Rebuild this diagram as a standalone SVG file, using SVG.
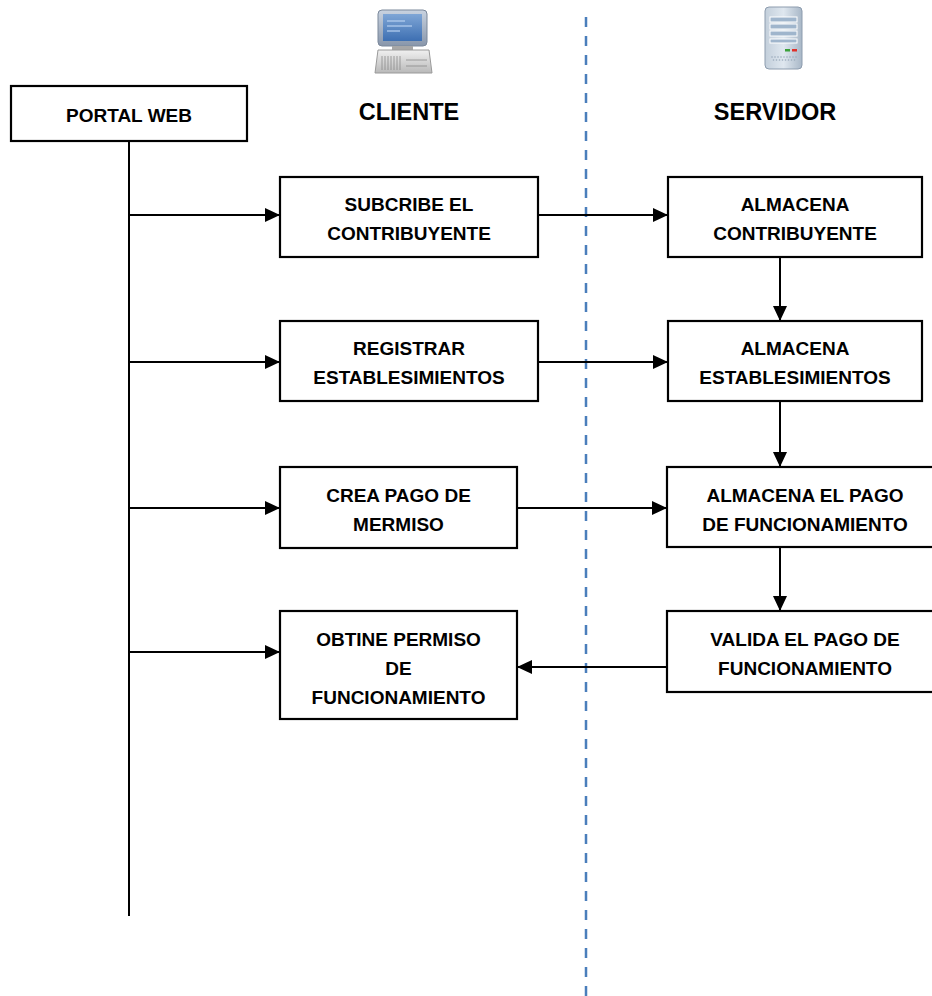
<svg xmlns="http://www.w3.org/2000/svg" width="932" height="996" viewBox="0 0 932 996">
<style>
.box{fill:#fff;stroke:#000;stroke-width:2.2}
.t{font-family:"Liberation Sans",Arial,sans-serif;font-weight:bold;font-size:19px;fill:#000;text-anchor:middle}
.h{font-family:"Liberation Sans",Arial,sans-serif;font-weight:bold;font-size:23.5px;fill:#000;text-anchor:middle}
.c{stroke:#000;stroke-width:2;fill:none}
.c.a{marker-end:url(#arr)}
</style>
<defs>
<marker id="arr" markerWidth="16" markerHeight="14" refX="15" refY="7" orient="auto" markerUnits="userSpaceOnUse">
<path d="M0,0 L15,7 L0,14 Z" fill="#000"/>
</marker>
<linearGradient id="srv" x1="0" y1="0" x2="1" y2="0">
<stop offset="0" stop-color="#c3cfdb"/><stop offset="0.5" stop-color="#dfe7ef"/><stop offset="1" stop-color="#a8b7c7"/>
</linearGradient>
<linearGradient id="scr" x1="0" y1="0" x2="0" y2="1">
<stop offset="0" stop-color="#7fa6d6"/><stop offset="1" stop-color="#3d6fb2"/>
</linearGradient>
<linearGradient id="bez" x1="0" y1="0" x2="0" y2="1">
<stop offset="0" stop-color="#c9d3e0"/><stop offset="1" stop-color="#8896aa"/>
</linearGradient>
<linearGradient id="base" x1="0" y1="0" x2="0" y2="1">
<stop offset="0" stop-color="#f0f0f0"/><stop offset="1" stop-color="#b9b9b9"/>
</linearGradient>
</defs>

<!-- divider -->
<line x1="586" y1="17" x2="586" y2="996" stroke="#4a7ebb" stroke-width="2.5" stroke-dasharray="10 9"/>

<!-- icons -->
<g id="icon-cliente">
<rect x="378" y="10" width="49" height="36" rx="4" fill="url(#bez)" stroke="#7b889b" stroke-width="1"/>
<rect x="383" y="14" width="39" height="27" fill="url(#scr)"/>
<line x1="387" y1="21" x2="405" y2="21" stroke="#b8d0f0" stroke-width="1.2"/>
<line x1="387" y1="26" x2="412" y2="26" stroke="#b8d0f0" stroke-width="1.2"/>
<line x1="387" y1="31" x2="400" y2="31" stroke="#b8d0f0" stroke-width="1.2"/>
<rect x="392" y="46" width="21" height="4" fill="#a7a7a7"/>
<path d="M378,50 L429,50 L432,73 L375,73 Z" fill="url(#base)" stroke="#9a9a9a" stroke-width="1"/>
<g stroke="#8c8c8c" stroke-width="0.8">
<line x1="382" y1="56" x2="382" y2="70"/><line x1="385" y1="56" x2="385" y2="70"/><line x1="388" y1="56" x2="388" y2="70"/><line x1="391" y1="56" x2="391" y2="70"/><line x1="394" y1="56" x2="394" y2="70"/><line x1="397" y1="56" x2="397" y2="70"/><line x1="400" y1="56" x2="400" y2="70"/>
<line x1="406" y1="60" x2="427" y2="60"/><line x1="406" y1="66" x2="427" y2="66"/>
</g>
</g>

<g id="icon-servidor">
<rect x="765" y="7" width="37" height="62" rx="4" fill="url(#srv)" stroke="#8d9cae" stroke-width="1"/>
<g fill="#9fb5cc" stroke="#fff" stroke-width="1">
<rect x="770" y="17" width="27" height="5"/><rect x="770" y="24" width="27" height="5"/><rect x="770" y="31" width="27" height="5"/><rect x="770" y="39" width="27" height="4"/>
</g>
<rect x="785" y="49" width="5" height="2.5" fill="#3aa13a"/>
<rect x="792" y="49" width="5" height="2.5" fill="#e0302a"/>
<g fill="#9aa9ba">
<circle cx="772" cy="57" r="0.8"/><circle cx="775" cy="57" r="0.8"/><circle cx="778" cy="57" r="0.8"/><circle cx="781" cy="57" r="0.8"/><circle cx="784" cy="57" r="0.8"/><circle cx="787" cy="57" r="0.8"/><circle cx="790" cy="57" r="0.8"/><circle cx="793" cy="57" r="0.8"/><circle cx="796" cy="57" r="0.8"/>
<circle cx="773.5" cy="60" r="0.8"/><circle cx="776.5" cy="60" r="0.8"/><circle cx="779.5" cy="60" r="0.8"/><circle cx="782.5" cy="60" r="0.8"/><circle cx="785.5" cy="60" r="0.8"/><circle cx="788.5" cy="60" r="0.8"/><circle cx="791.5" cy="60" r="0.8"/><circle cx="794.5" cy="60" r="0.8"/>
</g>
</g>

<text class="h" x="409" y="120">CLIENTE</text>
<text class="h" x="775" y="120">SERVIDOR</text>

<!-- connectors -->
<g id="connectors">
<line class="c" x1="129" y1="141" x2="129" y2="916"/>
<line class="c a" x1="129" y1="215" x2="280" y2="215"/>
<line class="c a" x1="129" y1="362" x2="280" y2="362"/>
<line class="c a" x1="129" y1="508" x2="280" y2="508"/>
<line class="c a" x1="129" y1="652" x2="280" y2="652"/>
<line class="c a" x1="538" y1="215" x2="668" y2="215"/>
<line class="c a" x1="538" y1="362" x2="668" y2="362"/>
<line class="c a" x1="517" y1="508" x2="667" y2="508"/>
<line class="c a" x1="667" y1="667" x2="517" y2="667"/>
<line class="c a" x1="780" y1="257" x2="780" y2="321"/>
<line class="c a" x1="780" y1="401" x2="780" y2="467"/>
<line class="c a" x1="780" y1="547" x2="780" y2="611"/>
</g>

<!-- nodes -->
<g id="portal-web">
<rect class="box" x="11" y="86" width="236" height="55"/>
<text class="t" x="129" y="122">PORTAL WEB</text>
</g>
<g id="subcribe">
<rect class="box" x="280" y="177" width="258" height="80"/>
<text class="t" x="409" y="211">SUBCRIBE EL</text>
<text class="t" x="409" y="240">CONTRIBUYENTE</text>
</g>
<g id="registrar">
<rect class="box" x="280" y="321" width="258" height="80"/>
<text class="t" x="409" y="355">REGISTRAR</text>
<text class="t" x="409" y="384">ESTABLESIMIENTOS</text>
</g>
<g id="crea-pago">
<rect class="box" x="280" y="467" width="237" height="81"/>
<text class="t" x="398.5" y="501.5">CREA PAGO DE</text>
<text class="t" x="398.5" y="531">MERMISO</text>
</g>
<g id="obtine-permiso">
<rect class="box" x="280" y="611" width="237" height="108"/>
<text class="t" x="398.5" y="646">OBTINE PERMISO</text>
<text class="t" x="398.5" y="675">DE</text>
<text class="t" x="398.5" y="704">FUNCIONAMIENTO</text>
</g>
<g id="almacena-contribuyente">
<rect class="box" x="668" y="177" width="254" height="80"/>
<text class="t" x="795" y="211">ALMACENA</text>
<text class="t" x="795" y="240">CONTRIBUYENTE</text>
</g>
<g id="almacena-establesimientos">
<rect class="box" x="668" y="321" width="254" height="80"/>
<text class="t" x="795" y="355">ALMACENA</text>
<text class="t" x="795" y="384">ESTABLESIMIENTOS</text>
</g>
<g id="almacena-pago">
<rect class="box" x="667" y="467" width="276" height="80"/>
<text class="t" x="805" y="501.5">ALMACENA EL PAGO</text>
<text class="t" x="805" y="531">DE FUNCIONAMIENTO</text>
</g>
<g id="valida-pago">
<rect class="box" x="667" y="611" width="276" height="81"/>
<text class="t" x="805" y="646">VALIDA EL PAGO DE</text>
<text class="t" x="805" y="675">FUNCIONAMIENTO</text>
</g>
</svg>
